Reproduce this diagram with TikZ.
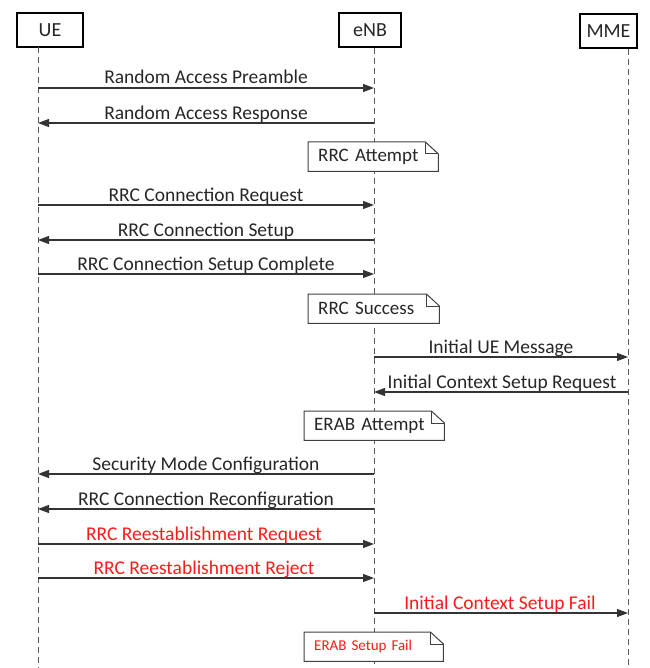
\documentclass[tikz,border=0pt]{standalone}
\usepackage{fontspec}
\setmainfont{Carlito}
\usetikzlibrary{arrows.meta}
\definecolor{linegray}{HTML}{333333}
\definecolor{lifegray}{HTML}{5A5A5A}
\definecolor{msgred}{HTML}{FF1A1A}
\tikzset{
  actor/.style={draw=black, line width=2pt, fill=white, inner sep=0pt, minimum height=34pt, font=\fontsize{20}{22}\selectfont, text=black!85},
  life/.style={draw=lifegray, line width=1pt, dash pattern=on 6pt off 4pt},
  msgline/.style={draw=linegray, line width=1.1pt, -{Triangle[length=11pt,width=8pt]}},
  msglabel/.style={anchor=base, inner sep=0pt, font=\fontsize{19.5}{22}\selectfont, text=black!85},
  redlabel/.style={msglabel, text=msgred},
  notebox/.style={anchor=north west, fill=white, inner xsep=10pt, inner ysep=0pt, align=left, minimum height=29pt, font=\fontsize{19}{21}\selectfont, text=black!85},
  noteedge/.style={draw=black!75, line width=1pt}
}
\newcommand\dognote[1]{%
  \draw[noteedge] (#1.north west) -- ([xshift=-13pt]#1.north east) -- ([yshift=-12pt]#1.north east) -- (#1.south east) -- (#1.south west) -- cycle;
  \draw[noteedge] ([xshift=-13pt]#1.north east) -- ([xshift=-13pt,yshift=-12pt]#1.north east) -- ([yshift=-12pt]#1.north east);
}
\begin{document}
\begin{tikzpicture}[x=1pt,y=-1pt]
\useasboundingbox (0,0) rectangle (649,668);
% actors
\node[actor, minimum width=66pt] (ue) at (50,30) {UE};
\node[actor, minimum width=62pt] (enb) at (370,30.5) {eNB};
\node[actor, minimum width=57pt] (mme) at (608.5,31) {MME};
% lifelines
\coordinate (ueT) at (38,47);
\coordinate (ueB) at (38,668);
\coordinate (enbT) at (374,48);
\coordinate (enbB) at (374,668);
\coordinate (mmeT) at (628,49);
\coordinate (mmeB) at (628,668);
\draw[life] (ueT) -- (ueB);
\draw[life] (enbT) -- (enbB);
\draw[life] (mmeT) -- (mmeB);

% message endpoints
\foreach \n/\y in {1/88,2/123,3/205,4/240,5/274,6/357,7/392,8/474,9/509,10/544,11/578,12/613}{
  \coordinate (u\n) at (38,\y);
  \coordinate (e\n) at (374,\y);
  \coordinate (m\n) at (628,\y);
}

\draw[msgline] (u1) -- (e1);
\node[msglabel] (l1) at (206,84) {Random Access Preamble};
\draw[msgline] (e2) -- (u2);
\node[msglabel] (l2) at (206,119.5) {Random Access Response};

\node[notebox, text width=110pt] (n1) at (308,142) {RRC Attempt};
\dognote{n1}

\draw[msgline] (u3) -- (e3);
\node[msglabel] (l3) at (206,201) {RRC Connection Request};
\draw[msgline] (e4) -- (u4);
\node[msglabel] (l4) at (206,236) {RRC Connection Setup};
\draw[msgline] (u5) -- (e5);
\node[msglabel] (l5) at (206,270) {RRC Connection Setup Complete};

\node[notebox, text width=111pt] (n2) at (308,294) {RRC Success};
\dognote{n2}

\draw[msgline] (e6) -- (m6);
\node[msglabel] (l6) at (501,353) {Initial UE Message};
\draw[msgline] (m7) -- (e7);
\node[msglabel] (l7) at (502,388.5) {Initial Context Setup Request};

\node[notebox, text width=120pt, inner xsep=10pt] (n3) at (304,411) {ERAB Attempt};
\dognote{n3}

\draw[msgline] (e8) -- (u8);
\node[msglabel] (l8) at (206,470) {Security Mode Configuration};
\draw[msgline] (e9) -- (u9);
\node[msglabel] (l9) at (206,505) {RRC Connection Reconfiguration};
\draw[msgline] (u10) -- (e10);
\node[redlabel] (l10) at (204,540) {RRC Reestablishment Request};
\draw[msgline] (u11) -- (e11);
\node[redlabel] (l11) at (204,574) {RRC Reestablishment Reject};
\draw[msgline] (e12) -- (m12);
\node[redlabel] (l12) at (500,609) {Initial Context Setup Fail};

\node[notebox, text width=119pt, inner xsep=10pt, font=\fontsize{15}{17}\selectfont, text=msgred] (n4) at (304,632) {ERAB Setup\ Fail};
\dognote{n4}
\end{tikzpicture}
\end{document}
